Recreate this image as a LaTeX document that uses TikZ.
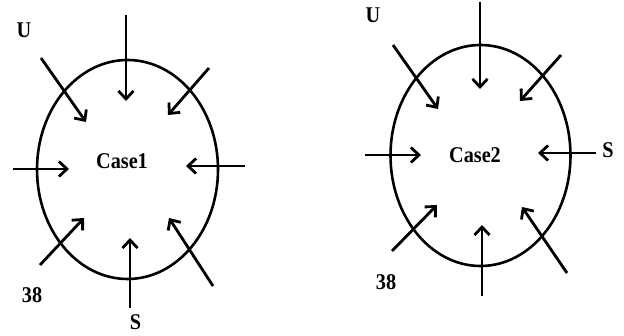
\documentclass[tikz,border=0pt]{standalone}
\usepackage{fontspec}
\setmainfont[FakeStretch=0.9]{Liberation Serif}
\usetikzlibrary{arrows.meta,shapes.geometric}

\begin{document}
\begin{tikzpicture}[x=1pt, y=-1pt,
  zone/.style={draw=black, ellipse, line width=2.6pt, inner sep=0pt},
  arr/.style={-{Straight Barb[length=8pt,width=15pt]}, black, line width=2.8pt},
  caselbl/.style={font=\bfseries\fontsize{22.5}{24}\selectfont, text=black},
  sidelbl/.style={font=\bfseries\fontsize{22.5}{24}\selectfont, text=black},
]
\useasboundingbox (0,0) rectangle (624,336);

% Case 1 body
\node[zone, minimum width=181pt, minimum height=219pt] (zoneA) at (127.5,169.5) {};
\node[caselbl] (caseA) at (122,161) {Case1};

% Case 1 arrows (start / end)
\foreach \n/\sx/\sy/\ex/\ey in {n/126/15/126/101, nw/41/58/86/122, ne/209/68/168/115,
    w/13/169/69/169, e/245/166/186/166, sw/40/265/84/218,
    s/130/308/130/238, se/213/286/169/218}{
  \coordinate (a\n0) at (\sx,\sy);
  \coordinate (a\n1) at (\ex,\ey);
  \draw[arr] (a\n0) -- (a\n1);
}

% Case 1 labels
\node[sidelbl] (uA) at (24,30) {U};
\node[sidelbl] (numA) at (32,295) {38};
\node[sidelbl] (sA) at (135.5,322) {S};

% Case 2 body
\node[zone, minimum width=180pt, minimum height=221pt] (zoneB) at (480.5,155.5) {};
\node[caselbl] (caseB) at (475,155) {Case2};

% Case 2 arrows (start / end)
\foreach \n/\sx/\sy/\ex/\ey in {n/480/2/480/89, nw/393/45/438/109, ne/561/55/520/101,
    w/365/155/421/155, e/596/153/538/153, sw/392/251/437/205,
    s/482/296/482/225, se/567/273/522/207}{
  \coordinate (b\n0) at (\sx,\sy);
  \coordinate (b\n1) at (\ex,\ey);
  \draw[arr] (b\n0) -- (b\n1);
}

% Case 2 labels
\node[sidelbl] (uB) at (373,15) {U};
\node[sidelbl] (sB) at (608,150) {S};
\node[sidelbl] (numB) at (386,282) {38};

\end{tikzpicture}
\end{document}
